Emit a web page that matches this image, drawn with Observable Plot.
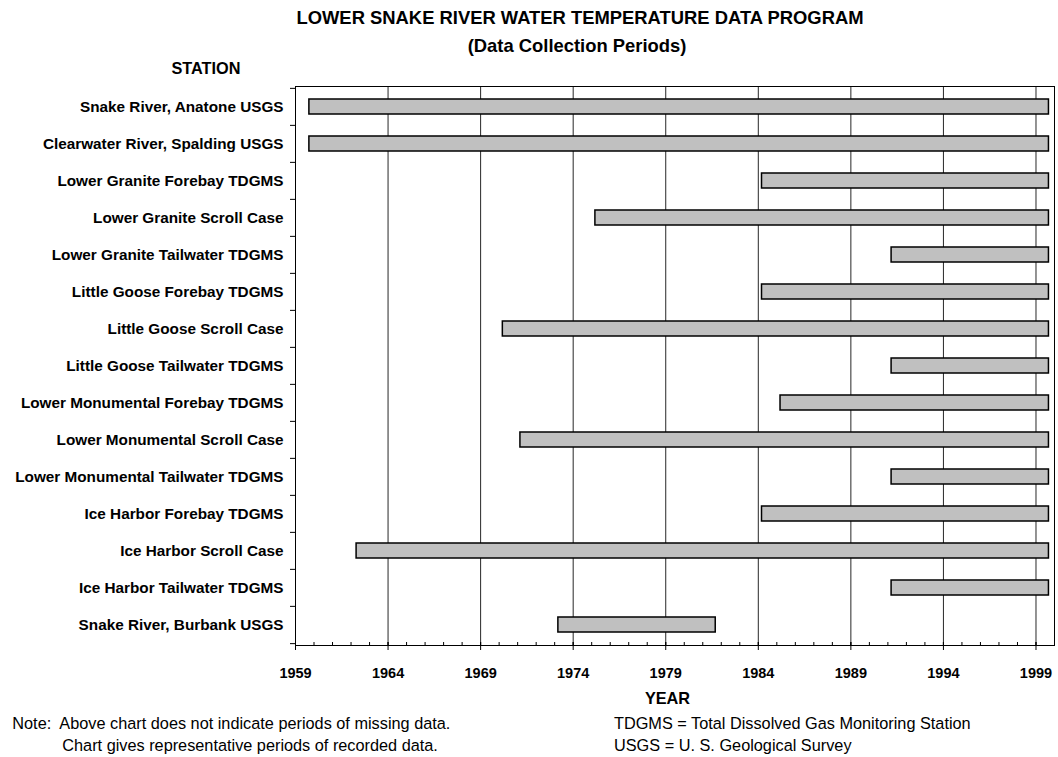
<!DOCTYPE html>
<html><head><meta charset="utf-8">
<script src="https://cdn.jsdelivr.net/npm/d3@7"></script>
<script src="https://cdn.jsdelivr.net/npm/@observablehq/plot@0.6"></script>
<style>
body{margin:0;background:#fff;font-family:"Liberation Sans",Arial,sans-serif;color:#000}
#wrap{position:relative;width:1058px;height:757px;overflow:hidden;background:#fff}
.t{position:absolute;white-space:nowrap;line-height:1}
.c{transform:translateX(-50%)}
.b{font-weight:bold}
#chart{position:absolute;left:0;top:76px}
</style></head><body>
<div id="wrap">
  <div class="t c b" style="left:580px;top:8.7px;font-size:18.4px">LOWER SNAKE RIVER WATER TEMPERATURE DATA PROGRAM</div>
  <div class="t c b" style="left:577px;top:37.4px;font-size:18.4px">(Data Collection Periods)</div>
  <div class="t c b" style="left:206px;top:59.5px;font-size:16.3px">STATION</div>
  <div id="chart"></div>
  <div class="t c b" style="left:667.5px;top:689.5px;font-size:16.3px">YEAR</div>
  <div class="t" style="left:12.3px;top:715.2px;font-size:16.3px;white-space:pre">Note:  Above chart does not indicate periods of missing data.</div>
  <div class="t" style="left:62.3px;top:737.2px;font-size:16.3px">Chart gives representative periods of recorded data.</div>
  <div class="t" style="left:614px;top:715.2px;font-size:16.3px">TDGMS = Total Dissolved Gas Monitoring Station</div>
  <div class="t" style="left:614px;top:737.2px;font-size:16.3px">USGS = U. S. Geological Survey</div>
</div>
<script>
const stations = [
  "Snake River, Anatone USGS",
  "Clearwater River, Spalding USGS",
  "Lower Granite Forebay TDGMS",
  "Lower Granite Scroll Case",
  "Lower Granite Tailwater TDGMS",
  "Little Goose Forebay TDGMS",
  "Little Goose Scroll Case",
  "Little Goose Tailwater TDGMS",
  "Lower Monumental Forebay TDGMS",
  "Lower Monumental Scroll Case",
  "Lower Monumental Tailwater TDGMS",
  "Ice Harbor Forebay TDGMS",
  "Ice Harbor Scroll Case",
  "Ice Harbor Tailwater TDGMS",
  "Snake River, Burbank USGS"
];
const startYears = [1959.75, 1959.75, 1984.2, 1975.2, 1991.2, 1984.2, 1970.2, 1991.2, 1985.2, 1971.15, 1991.2, 1984.2, 1962.3, 1991.2, 1973.2];
const endYears   = [1999.7, 1999.7, 1999.7, 1999.7, 1999.7, 1999.7, 1999.7, 1999.7, 1999.7, 1999.7, 1999.7, 1999.7, 1999.7, 1999.7, 1981.7];
const majorTicks = [1959, 1964, 1969, 1974, 1979, 1984, 1989, 1994, 1999];
const minorTicks = d3.range(1959, 2001);

const data = stations.map((s, i) => ({station: s, start: startYears[i], end: endYears[i]}));

const width = 1058, marginTop = 10, marginBottom = 40, plotH = 559;
const height = marginTop + plotH + marginBottom;
const step = plotH / stations.length;

const chart = Plot.plot({
  width, height,
  marginLeft: 295, marginRight: 4, marginTop, marginBottom,
  style: {fontFamily: '"Liberation Sans", Arial, sans-serif', color: "#000", background: "#fff", overflow: "visible"},
  x: {domain: [1959, 2000]},
  y: {domain: stations, padding: 0},
  marks: [
    Plot.gridX(majorTicks, {stroke: "#000", strokeOpacity: 0.85}),
    Plot.barX(data, {y: "station", x1: "start", x2: "end", fill: "#c0c0c0", stroke: "#000", strokeWidth: 1.5, insetTop: 11, insetBottom: 11}),
    Plot.frame({stroke: "#000", strokeWidth: 1}),
    Plot.axisY({tickSize: 0, tickPadding: 12, fontSize: 15.3, fontWeight: "bold", label: null}),
    Plot.axisY({tickSize: 5, text: null, dy: -step / 2, label: null}),
    Plot.axisY({ticks: [stations[stations.length - 1]], tickSize: 5, text: null, dy: step / 2, label: null}),
    Plot.axisX({ticks: minorTicks, tickSize: 3, dy: -3, text: null, label: null}),
    Plot.axisX({ticks: majorTicks, tickSize: 8, dy: -3, text: null, label: null}),
    Plot.axisX({ticks: majorTicks, tickSize: 0, tickPadding: 22, tickFormat: "d", fontSize: 14.5, fontWeight: "bold", label: null})
  ]
});
document.getElementById("chart").appendChild(chart);
</script>
</body></html>
